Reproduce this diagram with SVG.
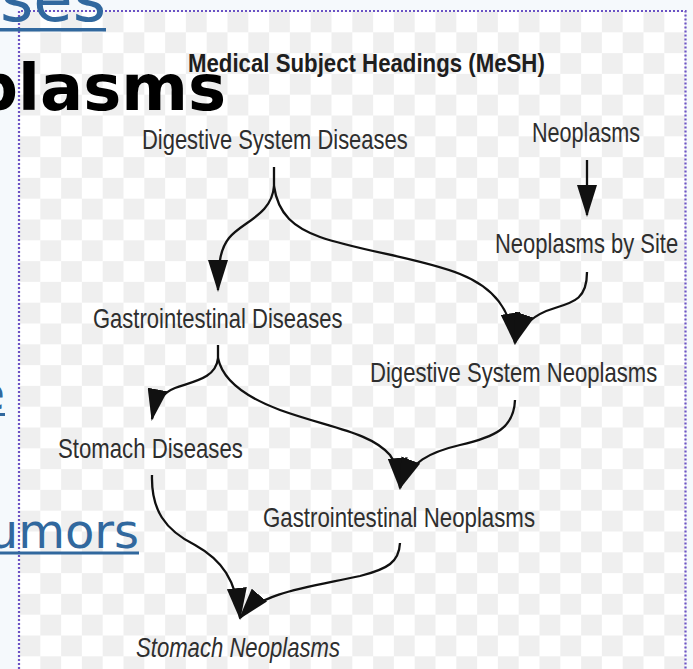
<svg xmlns="http://www.w3.org/2000/svg" width="693" height="669" viewBox="0 0 693 669">
<defs>
<style>
.lbl{font-family:"Liberation Sans",Arial,sans-serif;font-size:27px;fill:#2e2e2e;}
.ttl{font-family:"Liberation Sans",Arial,sans-serif;font-size:26px;font-weight:bold;fill:#1e1e1e;}
.lnk{font-family:"DejaVu Sans",Verdana,sans-serif;fill:#31689e;}
.hd{font-family:"DejaVu Sans",Verdana,sans-serif;font-weight:bold;fill:#000;}
.edge{fill:none;stroke:#111;stroke-width:2.3;marker-end:url(#ah);}
</style>
<pattern id="chk" patternUnits="userSpaceOnUse" x="19.5" y="11.5" width="41.6" height="41.6">
<rect width="41.6" height="41.6" fill="#ffffff"/>
<rect width="20.8" height="20.8" fill="#efefef"/>
<rect x="20.8" y="20.8" width="20.8" height="20.8" fill="#efefef"/>
</pattern>
<marker id="ah" markerUnits="userSpaceOnUse" viewBox="0 0 32 20" markerWidth="32" markerHeight="20" refX="30" refY="10" orient="auto">
<path d="M0,0 L32,10 L0,20 Z" fill="#111"/>
</marker>
</defs>
<rect width="693" height="669" fill="#f5f9fc"/>
<rect x="19" y="11" width="667" height="660" fill="url(#chk)"/>
<path d="M19,669 V11 H685.5 V669" fill="none" stroke="#6b52c4" stroke-width="2.2" stroke-dasharray="2 2"/>

<g id="connectors">
<path class="edge" d="M274,167 V186 C272,215 242,222 229,238 C221,248 218,262 218,290"/>
<path class="edge" d="M274,186 C278,215 295,228 320,237 C360,251 420,258 460,274 C495,288 510,310 515,343"/>
<path class="edge" d="M587,160 V215"/>
<path class="edge" d="M587,272 C587,298 575,302 555,308 C538,313 522,322 515,343"/>
<path class="edge" d="M218,345 V358 C216,378 195,381 175,388 C162,393 155,403 152,419"/>
<path class="edge" d="M218,358 C222,378 240,395 280,410 C330,428 370,432 390,455 C396,463 399,475 400,488"/>
<path class="edge" d="M515,400 C514,428 495,437 460,445 C430,452 410,462 400,488"/>
<path class="edge" d="M152,475 C151,510 165,530 195,545 C222,560 236,580 240,618"/>
<path class="edge" d="M400,543 C399,562 388,569 360,576 C310,587 262,592 240,618"/>
</g>

<g id="title"><text class="ttl" transform="translate(188,72) scale(0.8,1)" textLength="446" lengthAdjust="spacingAndGlyphs">Medical Subject Headings (MeSH)</text></g>
<g id="n-digestive-system-diseases"><text class="lbl" transform="translate(142,149) scale(0.8,1)" textLength="332" lengthAdjust="spacingAndGlyphs">Digestive System Diseases</text></g>
<g id="n-neoplasms"><text class="lbl" transform="translate(532,142) scale(0.8,1)" textLength="135" lengthAdjust="spacingAndGlyphs">Neoplasms</text></g>
<g id="n-neoplasms-by-site"><text class="lbl" transform="translate(495,253) scale(0.8,1)" textLength="229" lengthAdjust="spacingAndGlyphs">Neoplasms by Site</text></g>
<g id="n-gastrointestinal-diseases"><text class="lbl" transform="translate(93,328) scale(0.8,1)" textLength="312" lengthAdjust="spacingAndGlyphs">Gastrointestinal Diseases</text></g>
<g id="n-digestive-system-neoplasms"><text class="lbl" transform="translate(370,382) scale(0.8,1)" textLength="359" lengthAdjust="spacingAndGlyphs">Digestive System Neoplasms</text></g>
<g id="n-stomach-diseases"><text class="lbl" transform="translate(58,458) scale(0.8,1)" textLength="231" lengthAdjust="spacingAndGlyphs">Stomach Diseases</text></g>
<g id="n-gastrointestinal-neoplasms"><text class="lbl" transform="translate(263,527) scale(0.8,1)" textLength="340" lengthAdjust="spacingAndGlyphs">Gastrointestinal Neoplasms</text></g>
<g id="n-stomach-neoplasms"><text class="lbl" transform="translate(136,657) scale(0.8,1)" textLength="255" lengthAdjust="spacingAndGlyphs" font-style="italic">Stomach Neoplasms</text></g>

<g id="page-overlay">
<text class="lnk" x="106" y="21" font-size="64" text-anchor="end">ses</text>
<rect x="0" y="28" width="106" height="3.5" fill="#31689e"/>
<text class="hd" x="226" y="110" font-size="64" text-anchor="end">plasms</text>
<text class="lnk" x="5" y="410" font-size="48" text-anchor="end">e</text>
<rect x="0" y="413" width="5" height="3" fill="#31689e"/>
<text class="lnk" x="139" y="548" font-size="48" text-anchor="end">umors</text>
<rect x="0" y="551.5" width="139" height="3" fill="#31689e"/>
</g>
</svg>
